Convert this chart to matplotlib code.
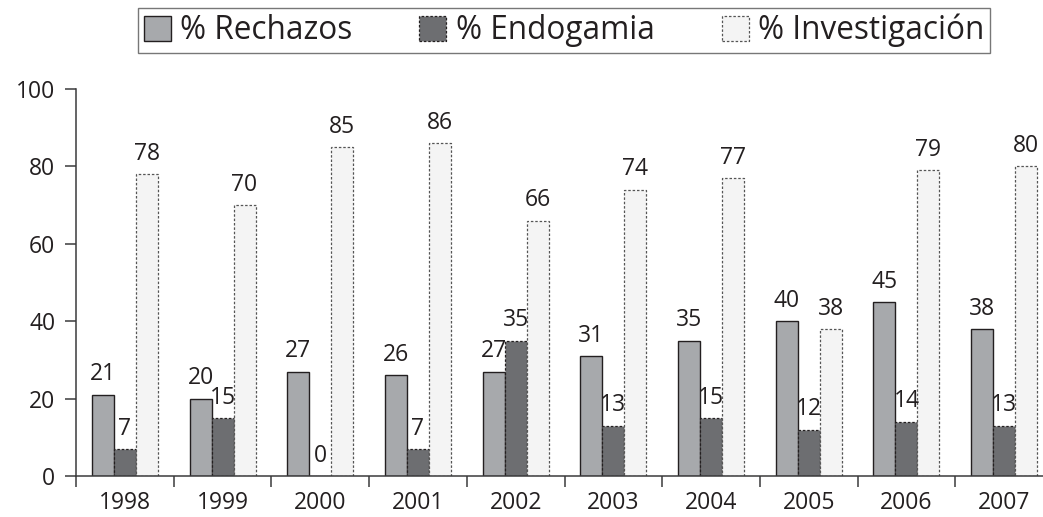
import matplotlib
matplotlib.use("Agg")
import matplotlib.pyplot as plt
import numpy as np
from matplotlib.patches import Patch

plt.rcParams['font.family'] = ['Open Sans', 'DejaVu Sans']

years = ['1998', '1999', '2000', '2001', '2002', '2003', '2004', '2005', '2006', '2007']
rechazos = [21, 20, 27, 26, 27, 31, 35, 40, 45, 38]
endogamia = [7, 15, 0, 7, 35, 13, 15, 12, 14, 13]
investigacion = [78, 70, 85, 86, 66, 74, 77, 38, 79, 80]
series_names = ['% Rechazos', '% Endogamia', '% Investigación']
y_ticks = [0, 20, 40, 60, 80, 100]

W, H = 1043, 517
fig = plt.figure(figsize=(W / 100, H / 100), dpi=100)
left_px, right_px, bottom_px, top_px = 76, 1053, 476, 89
ax = fig.add_axes([left_px / W, 1 - bottom_px / H, (right_px - left_px) / W, (bottom_px - top_px) / H])

x = np.arange(len(years))
bw = 0.225
styles = [
    dict(facecolor='#a7a9ac', edgecolor='#231f20', linestyle='-', linewidth=1.0),
    dict(facecolor='#6d6e71', edgecolor='#231f20', linestyle=(0, (2, 1.5)), linewidth=0.9),
    dict(facecolor='#f4f4f4', edgecolor='#555555', linestyle=(0, (2, 1.5)), linewidth=0.9),
]
data = [rechazos, endogamia, investigacion]
for i, (vals, st) in enumerate(zip(data, styles)):
    pos = x + (i - 1) * bw
    ax.bar(pos, vals, width=bw, zorder=2, **st)
    for px, v in zip(pos, vals):
        ax.annotate(str(v), (px, v), xytext=(0, 6), textcoords='offset points',
                    ha='center', va='bottom', fontsize=16.5, color='#231f20')

ax.set_xlim(-0.5, len(years) - 0.5)
ax.set_ylim(0, 100)
ax.set_yticks(y_ticks)
ax.set_yticklabels([str(t) for t in y_ticks])
ax.set_xticks(x)
ax.set_xticklabels(years)
ax.set_xticks(np.arange(len(years) + 1) - 0.5, minor=True)
ax.tick_params(axis='x', which='major', length=0, pad=10.5, labelsize=16.5, colors='#231f20')
ax.tick_params(axis='x', which='minor', length=8, width=1.1, color='#3a3a3c', direction='out')
ax.tick_params(axis='y', which='major', length=8, width=1.1, color='#3a3a3c', direction='out', pad=7,
               labelsize=16.5, labelcolor='#231f20')

for s in ['top', 'right']:
    ax.spines[s].set_visible(False)
for s in ['left', 'bottom']:
    ax.spines[s].set_color('#3a3a3c')
    ax.spines[s].set_linewidth(1.1)

handles = [Patch(**st) for st in styles]
leg = fig.legend(handles, series_names, loc='upper center', bbox_to_anchor=(564 / W, 1 - 8 / H),
                 ncol=3, fontsize=22.7, frameon=True, fancybox=False, edgecolor='#555555',
                 handlelength=0.86, handleheight=0.86, handletextpad=0.29, columnspacing=2.13,
                 borderpad=0.18, borderaxespad=0)
leg.get_frame().set_linewidth(1.0)
for t in leg.get_texts():
    t.set_color('#231f20')

fig.savefig('out.png', dpi=100)
